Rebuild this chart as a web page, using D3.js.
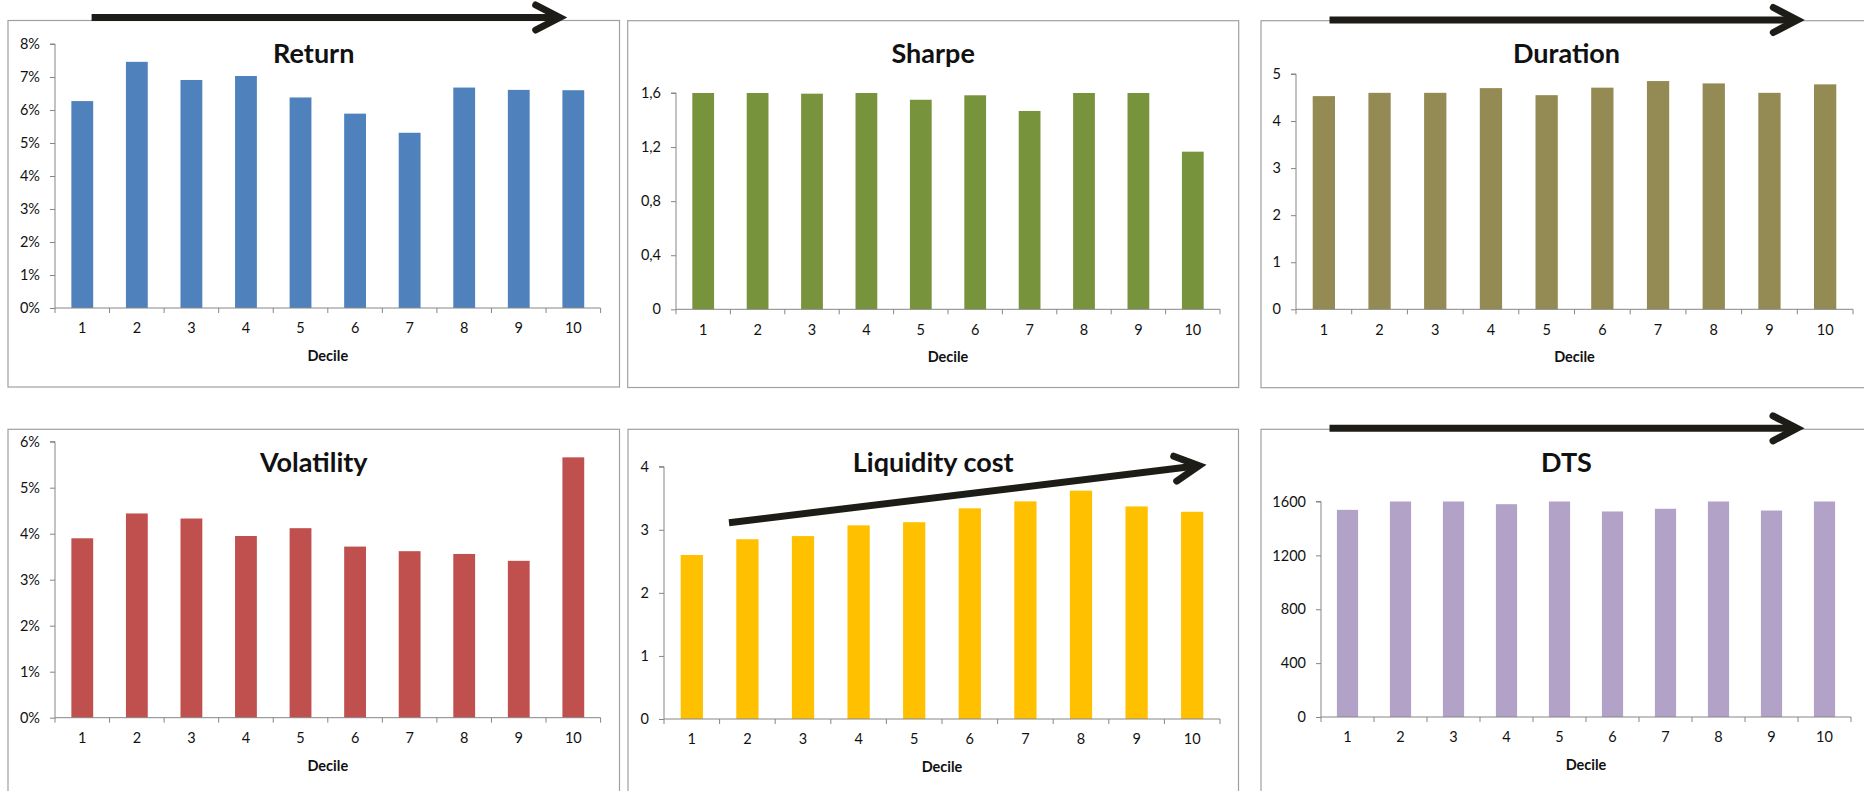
<!DOCTYPE html>
<html>
<head>
<meta charset="utf-8">
<script src="https://cdn.jsdelivr.net/npm/d3@7"></script>
<style>
  html, body { margin: 0; padding: 0; background: #ffffff; }
  svg { display: block; }
  text { font-family: Lato, "Open Sans", "Liberation Sans", sans-serif; fill: #111; }
</style>
</head>
<body>
<svg id="chart" width="1864" height="791"></svg>
<script>
// Decile buckets shared by every panel
const deciles = [1, 2, 3, 4, 5, 6, 7, 8, 9, 10];

// Series values, one array per metric
const returnPct     = [6.27, 7.46, 6.91, 7.03, 6.38, 5.89, 5.31, 6.68, 6.61, 6.60];
const sharpeRatio   = [1.60, 1.60, 1.595, 1.60, 1.55, 1.583, 1.467, 1.60, 1.60, 1.166];
const durationYears = [4.53, 4.60, 4.60, 4.70, 4.55, 4.71, 4.85, 4.80, 4.60, 4.78];
const volatilityPct = [3.90, 4.44, 4.33, 3.95, 4.12, 3.72, 3.62, 3.56, 3.41, 5.66];
const liquidityCost = [2.60, 2.85, 2.90, 3.07, 3.12, 3.34, 3.45, 3.62, 3.37, 3.285];
const dtsValues     = [1538, 1600, 1600, 1580, 1600, 1526, 1546, 1600, 1533, 1600];

// Y-axis tick values and their labels
const returnTicks     = [0, 1, 2, 3, 4, 5, 6, 7, 8];
const returnLabels    = ["0%", "1%", "2%", "3%", "4%", "5%", "6%", "7%", "8%"];
const sharpeTicks     = [0, 0.4, 0.8, 1.2, 1.6];
const sharpeLabels    = ["0", "0,4", "0,8", "1,2", "1,6"];
const durationTicks   = [0, 1, 2, 3, 4, 5];
const durationLabels  = ["0", "1", "2", "3", "4", "5"];
const volatilityTicks = [0, 1, 2, 3, 4, 5, 6];
const volatilityLabels = ["0%", "1%", "2%", "3%", "4%", "5%", "6%"];
const liquidityTicks  = [0, 1, 2, 3, 4];
const liquidityLabels = ["0", "1", "2", "3", "4"];
const dtsTicks        = [0, 400, 800, 1200, 1600];
const dtsLabels       = ["0", "400", "800", "1200", "1600"];

const titles = ["Return", "Sharpe", "Duration", "Volatility", "Liquidity cost", "DTS"];
const xAxisTitle = "Decile";

// Panel geometry: frame box and plot area (x range, y pixel of 0 and of the axis max)
const panels = [
  { title: titles[0], values: returnPct, ticks: returnTicks, labels: returnLabels, color: "#4F81BD",
    frame: { x: 8, y: 20.5, w: 611.5, h: 366.5 }, plot: { x0: 55, x1: 600.6, yZero: 308, yMax: 44 },
    arrow: { x0: 83.6, y0: -3, x1: 557.7, y1: -3 } },
  { title: titles[1], values: sharpeRatio, ticks: sharpeTicks, labels: sharpeLabels, color: "#77933C",
    frame: { x: 627.7, y: 20.7, w: 611, h: 366.8 }, plot: { x0: 676, x1: 1220, yZero: 309.3, yMax: 93 } },
  { title: titles[2], values: durationYears, ticks: durationTicks, labels: durationLabels, color: "#948A54",
    frame: { x: 1261, y: 20.7, w: 611, h: 367 }, plot: { x0: 1296, x1: 1853, yZero: 309.3, yMax: 74 },
    arrow: { x0: 68.5, y0: -0.7, x1: 542.3, y1: -0.7 } },
  { title: titles[3], values: volatilityPct, ticks: volatilityTicks, labels: volatilityLabels, color: "#C0504D",
    frame: { x: 8, y: 429.3, w: 611.5, h: 400 }, plot: { x0: 55, x1: 600.6, yZero: 717.7, yMax: 441.7 } },
  { title: titles[4], values: liquidityCost, ticks: liquidityTicks, labels: liquidityLabels, color: "#FFC000",
    frame: { x: 628, y: 429.3, w: 610.5, h: 400 }, plot: { x0: 664, x1: 1220, yZero: 719, yMax: 466.7 },
    arrow: { x0: 101, y0: 93.4, x1: 577, y1: 35.7 } },
  { title: titles[5], values: dtsValues, ticks: dtsTicks, labels: dtsLabels, color: "#B3A2C7",
    frame: { x: 1261, y: 429.3, w: 611, h: 400 }, plot: { x0: 1321, x1: 1851, yZero: 717, yMax: 501.5 },
    arrow: { x0: 68.5, y0: -1, x1: 542, y1: -1 } }
];

const svg = d3.select("#chart");
const axisColor = "#868686";
const frameColor = "#a0a0a0";
const arrowColor = "#1e1c16";

function drawArrow(g, a) {
  const dx = a.x1 - a.x0, dy = a.y1 - a.y0;
  const len = Math.hypot(dx, dy);
  const ux = dx / len, uy = dy / len;
  const px = -uy, py = ux;
  // pull the chevron vertex back so the stroked miter ends at the visible tip
  const tx = a.x1 - ux * 6, ty = a.y1 - uy * 6;
  // Shaft
  g.append("line")
    .attr("x1", a.x0).attr("y1", a.y0)
    .attr("x2", tx - ux * 3).attr("y2", ty - uy * 3)
    .attr("stroke", arrowColor).attr("stroke-width", 7);
  // Open chevron head
  const back = 24, half = 12.5;
  const path = d3.path();
  path.moveTo(tx - ux * back + px * half, ty - uy * back + py * half);
  path.lineTo(tx, ty);
  path.lineTo(tx - ux * back - px * half, ty - uy * back - py * half);
  g.append("path")
    .attr("d", path.toString())
    .attr("fill", "none").attr("stroke", arrowColor)
    .attr("stroke-width", 7).attr("stroke-linecap", "round").attr("stroke-linejoin", "miter");
}

panels.forEach(p => {
  const g = svg.append("g");

  // Panel frame
  g.append("rect")
    .attr("x", p.frame.x).attr("y", p.frame.y)
    .attr("width", p.frame.w).attr("height", p.frame.h)
    .attr("fill", "#fff").attr("stroke", frameColor).attr("stroke-width", 1.2);

  const x = d3.scaleBand().domain(deciles).range([p.plot.x0, p.plot.x1]).paddingInner(0).paddingOuter(0);
  const yMaxVal = p.ticks[p.ticks.length - 1];
  const y = d3.scaleLinear().domain([0, yMaxVal]).range([p.plot.yZero, p.plot.yMax]);
  const barW = x.bandwidth() / 2.5;

  // Bars
  g.append("g").selectAll("rect")
    .data(deciles.map((d, i) => ({ d, v: p.values[i] })))
    .join("rect")
    .attr("x", d => x(d.d) + (x.bandwidth() - barW) / 2)
    .attr("y", d => y(d.v))
    .attr("width", barW)
    .attr("height", d => y(0) - y(d.v))
    .attr("fill", p.color);

  // Y axis
  const yAxis = d3.axisLeft(y)
    .tickValues(p.ticks)
    .tickFormat((d, i) => p.labels[i])
    .tickSize(5).tickPadding(10);
  const ya = g.append("g").attr("transform", `translate(${p.plot.x0},0)`).call(yAxis);
  ya.select(".domain").attr("stroke", axisColor).attr("d", `M-5,${y(yMaxVal)}H0V${y(0)}`);
  ya.selectAll(".tick line").attr("stroke", axisColor);
  ya.selectAll(".tick text").attr("font-size", 14.5).attr("fill", "#111")
    .attr("font-family", "Lato, 'Open Sans', sans-serif");

  // X axis with ticks at category boundaries
  const xAxis = d3.axisBottom(x).tickSize(0).tickPadding(15);
  const xa = g.append("g").attr("transform", `translate(0,${y(0)})`).call(xAxis);
  xa.select(".domain").attr("stroke", axisColor).attr("d", `M${p.plot.x0},0H${p.plot.x1}`);
  xa.selectAll(".tick text").attr("font-size", 14.5).attr("fill", "#111")
    .attr("font-family", "Lato, 'Open Sans', sans-serif");
  const bounds = deciles.map(d => x(d)).concat([x(deciles[deciles.length - 1]) + x.bandwidth()]);
  xa.append("g").selectAll("line")
    .data(bounds).join("line")
    .attr("x1", d => d).attr("x2", d => d)
    .attr("y1", 0).attr("y2", 5)
    .attr("stroke", axisColor);

  // Axis title
  g.append("text")
    .attr("x", (p.plot.x0 + p.plot.x1) / 2)
    .attr("y", y(0) + 53)
    .attr("text-anchor", "middle")
    .attr("font-size", 14.5).attr("font-weight", 700)
    .text(xAxisTitle);

  // Chart title
  g.append("text")
    .attr("x", p.frame.x + p.frame.w / 2)
    .attr("y", p.frame.y + 33)
    .attr("dy", "0.36em")
    .attr("text-anchor", "middle")
    .attr("font-size", 27).attr("font-weight", 700)
    .text(p.title);
});

// Trend arrows, drawn last so they sit on top of frames
panels.forEach(p => {
  if (!p.arrow) return;
  const a = p.arrow;
  drawArrow(svg.append("g"), {
    x0: p.frame.x + a.x0, y0: p.frame.y + a.y0,
    x1: p.frame.x + a.x1, y1: p.frame.y + a.y1
  });
});
</script>
</body>
</html>
